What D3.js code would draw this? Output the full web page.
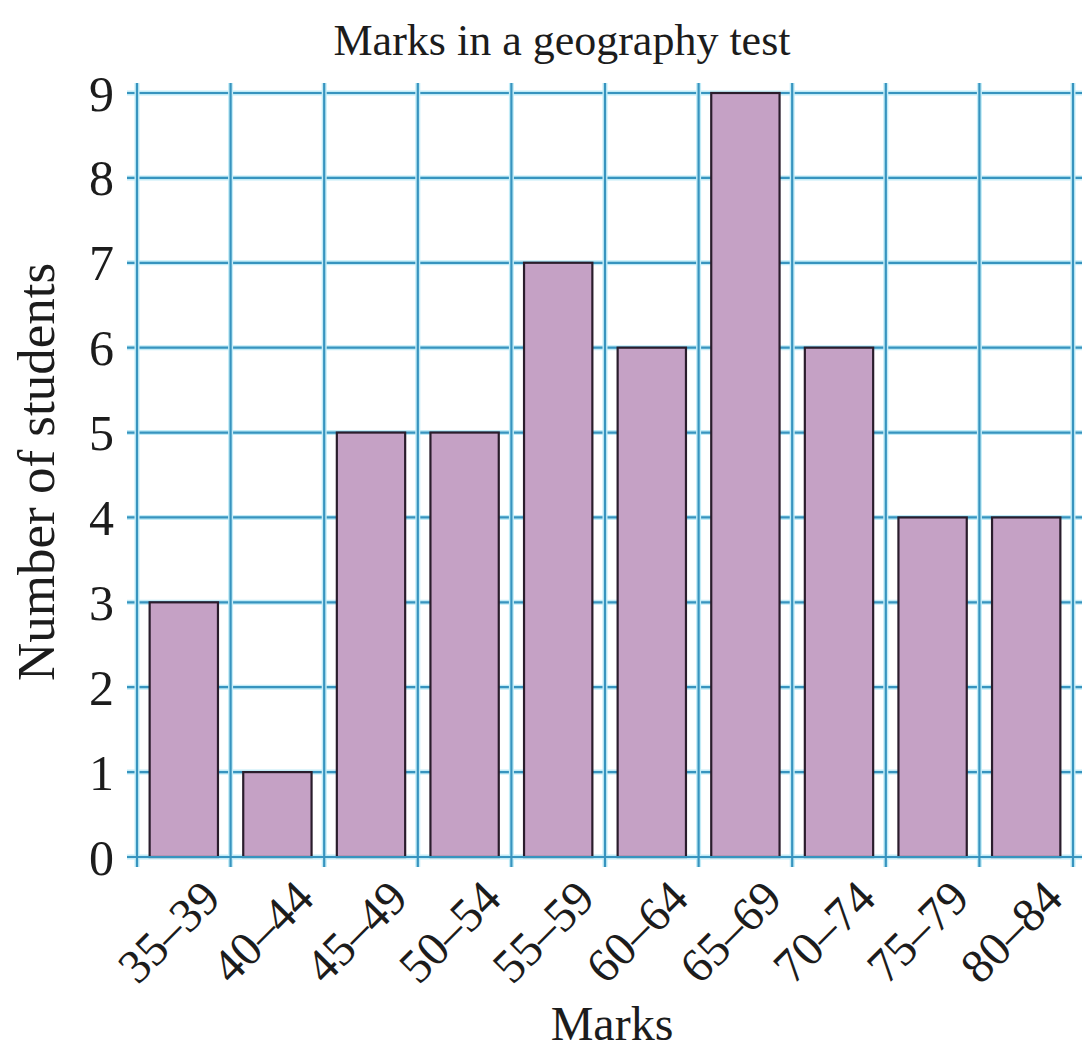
<!DOCTYPE html>
<html>
<head>
<meta charset="utf-8">
<script src="https://cdn.jsdelivr.net/npm/d3@7"></script>
<style>
  html, body { margin: 0; padding: 0; background: #ffffff; }
  svg { display: block; }
  text { font-family: "Liberation Serif", "DejaVu Serif", serif; fill: #1c1c1c; }
</style>
</head>
<body>
<script>
// Frequency of marks in a geography test
const categories = ["35–39", "40–44", "45–49", "50–54", "55–59", "60–64", "65–69", "70–74", "75–79", "80–84"];
const students = [3, 1, 5, 5, 7, 6, 9, 6, 4, 4];
const yTicks = [0, 1, 2, 3, 4, 5, 6, 7, 8, 9];

const W = 1082, H = 1049;
const plot = { left: 137, right: 1073, top: 93, bottom: 857 };

const svg = d3.select("body").append("svg").attr("width", W).attr("height", H);

const x = d3.scaleBand()
  .domain(categories)
  .range([plot.left, plot.right])
  .paddingInner(0.27)
  .paddingOuter(0.135);

const y = d3.scaleLinear().domain([0, 9]).range([plot.bottom, plot.top]);

const gridColor = "#3794bf";
const haloColor = "#c2ecf7";

// Horizontal grid lines (extend left as ticks and right to the page edge)
const hg = svg.append("g");
[haloColor, gridColor].forEach((c, i) => {
  hg.selectAll(null).data(yTicks).join("line")
    .attr("x1", 127).attr("x2", W)
    .attr("y1", d => y(d)).attr("y2", d => y(d))
    .attr("stroke", c).attr("stroke-width", i === 0 ? 5 : 2.2);
});

// Vertical grid lines at class boundaries
const step = x.step();
const boundaries = d3.range(categories.length + 1).map(i => plot.left + i * step);
const vg = svg.append("g");
[haloColor, gridColor].forEach((c, i) => {
  vg.selectAll(null).data(boundaries).join("line")
    .attr("x1", d => d).attr("x2", d => d)
    .attr("y1", plot.top - 10).attr("y2", plot.bottom + 10)
    .attr("stroke", c).attr("stroke-width", i === 0 ? 5 : 2.2);
});

// Bars
svg.append("g").selectAll("rect").data(categories).join("rect")
  .attr("x", d => x(d))
  .attr("width", x.bandwidth())
  .attr("y", (d, i) => y(students[i]))
  .attr("height", (d, i) => y(0) - y(students[i]))
  .attr("fill", "#c5a1c5")
  .attr("stroke", "#2a1d2c")
  .attr("stroke-width", 2.2);

// Baseline drawn over bar bottoms
svg.append("line")
  .attr("x1", 127).attr("x2", W)
  .attr("y1", y(0)).attr("y2", y(0))
  .attr("stroke", gridColor).attr("stroke-width", 2.2);

// Y tick labels
svg.append("g").selectAll("text").data(yTicks).join("text")
  .attr("x", 114)
  .attr("y", d => y(d))
  .attr("dy", "0.35em")
  .attr("text-anchor", "end")
  .style("font-size", "50px")
  .text(d => d);

// X tick labels, rotated
svg.append("g").selectAll("text").data(categories).join("text")
  .attr("transform", d => `translate(${x(d) + x.bandwidth() / 2 + 27},${plot.bottom + 32}) rotate(-45)`)
  .attr("text-anchor", "end")
  .attr("dy", "0.35em")
  .style("font-size", "48px")
  .text(d => d);

// Title
svg.append("text")
  .attr("x", 562).attr("y", 55)
  .attr("text-anchor", "middle")
  .style("font-size", "44px")
  .text("Marks in a geography test");

// Axis titles
svg.append("text")
  .attr("x", 612).attr("y", 1040)
  .attr("text-anchor", "middle")
  .style("font-size", "48px")
  .text("Marks");

svg.append("text")
  .attr("transform", "translate(54,472) rotate(-90)")
  .attr("text-anchor", "middle")
  .style("font-size", "53px")
  .text("Number of students");
</script>
</body>
</html>
